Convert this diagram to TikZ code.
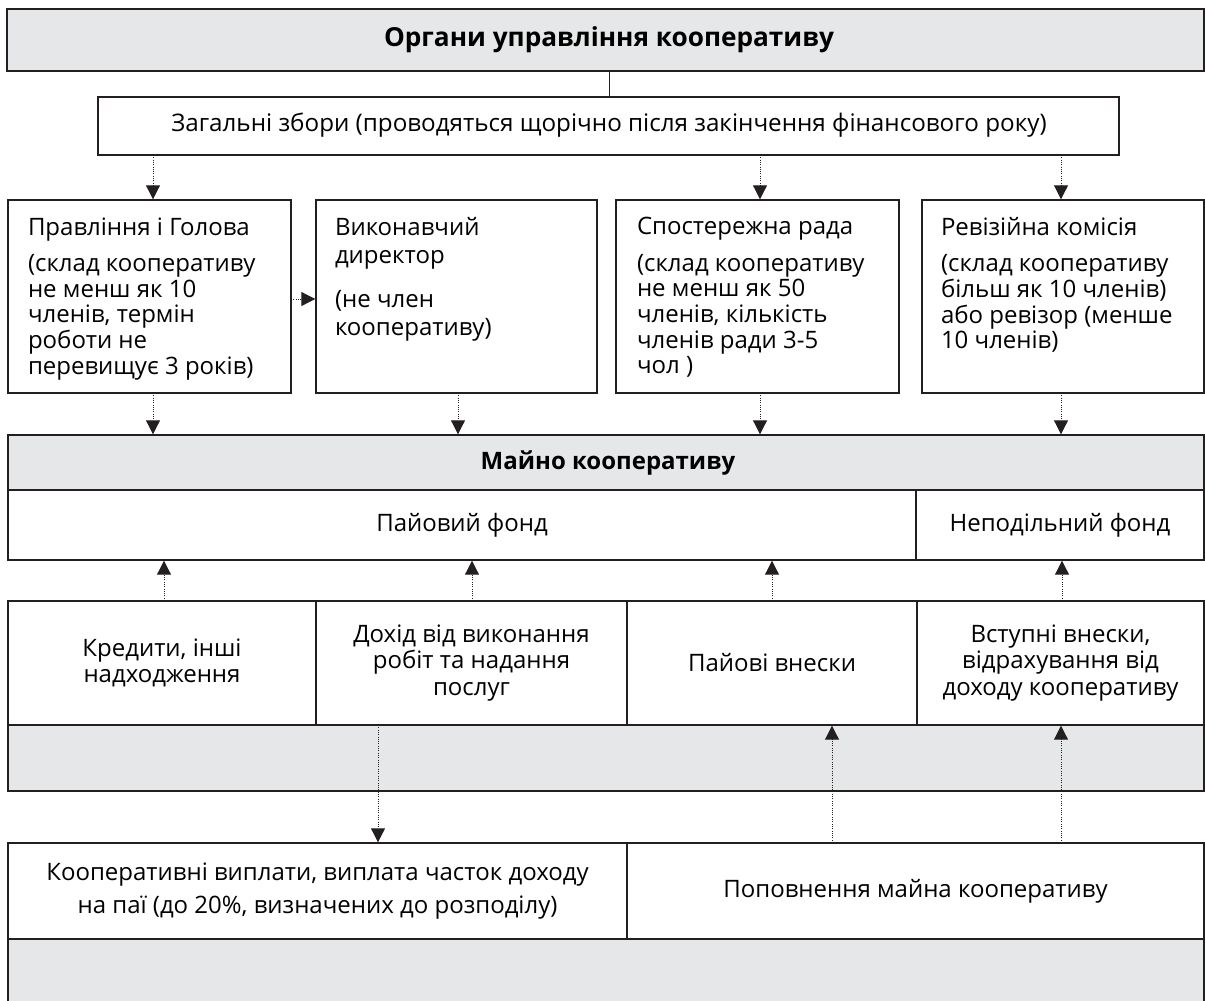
\documentclass[tikz,border=0pt]{standalone}
\usepackage{fontspec}
\setmainfont{Open Sans}
\usetikzlibrary{arrows.meta}
\definecolor{linec}{HTML}{231F20}
\definecolor{greyc}{HTML}{E6E7E8}
\newcommand\ftn{\fontsize{24}{25.7}\selectfont}
\newcommand\ftw{\fontsize{24}{28}\selectfont}
\newcommand\ftc{\fontsize{24}{26.5}\selectfont}
\newcommand\ftz{\fontsize{24.2}{28}\selectfont}
\newcommand\ftb{\fontsize{24}{33}\selectfont}
\begin{document}
\begin{tikzpicture}[x=1pt,y=-1pt,
  frame/.style={draw=linec,line width=1.4pt,inner sep=0pt,outer sep=0pt,anchor=north west},
  greybox/.style={frame,fill=greyc},
  cell/.style={frame,fill=white,align=center,font=\ftc},
  lbl/.style={inner sep=0pt,outer sep=0pt,anchor=north west,align=left,font=\ftn},
  arr/.style={draw=linec,line width=1pt,dash pattern=on 1pt off 1.3pt,
    -{Triangle[length=14pt,width=14pt,fill=linec]},shorten >=0.7pt},
  conn/.style={draw=linec,line width=1pt}
]
\useasboundingbox (0,0) rectangle (1205,1001);
% header
\node[greybox,minimum width=1197pt,minimum height=62pt] (hdr) at (7,9) {};
\node[font=\fontsize{26.2}{30}\selectfont\bfseries] (hdrt) at (609,40) {Органи управління кооперативу};
% general meeting
\node[frame,fill=white,minimum width=1021pt,minimum height=58pt] (zz) at (98,97) {};
\node[font=\ftz] (zzt) at (609,125) {Загальні збори (проводяться щорічно після закінчення фінансового року)};
\draw[conn] (hdr.south -| zzt.north) -- (zz.north -| zzt.north);
% four bodies
\node[frame,minimum width=283pt,minimum height=193pt] (p1) at (8,200) {};
\node[frame,minimum width=281pt,minimum height=193pt] (p2) at (316,200) {};
\node[frame,minimum width=283pt,minimum height=193pt] (p3) at (616,200) {};
\node[frame,minimum width=282pt,minimum height=193pt] (p4) at (922,200) {};
\node[lbl] (t1) at (28,217.5) {Правління і Голова\\[10.5pt](склад кооперативу\\не менш як 10\\членів, термін\\роботи не\\перевищує 3 років)};
\node[lbl,font=\ftw] (t2) at (335,217) {Виконавчий\\директор\\[16pt](не член\\кооперативу)};
\node[lbl] (t3) at (637,217.5) {Спостережна рада\\[10.5pt](склад кооперативу\\не менш як 50\\членів, кількість\\членів ради 3-5\\чол )};
\node[lbl] (t4) at (941,217.5) {Ревізійна комісія\\[10.5pt](склад кооперативу\\більш як 10 членів)\\або ревізор (менше\\10 членів)};
% property
\node[greybox,minimum width=1196pt,minimum height=125pt] (mp) at (8,435) {};
\node[font=\fontsize{24}{28}\selectfont\bfseries] (mpt) at (608,463) {Майно кооперативу};
\node[cell,minimum width=908pt,minimum height=70pt] (pf) at (8,490) {Пайовий фонд};
\node[cell,minimum width=288pt,minimum height=70pt] (nf) at (916,490) {Неподільний фонд};
% sources
\node[greybox,minimum width=1196pt,minimum height=190pt] (src) at (8,601) {};
\node[cell,minimum width=308pt,minimum height=124pt] (c1) at (8,601) {Кредити, інші\\надходження};
\node[cell,minimum width=311pt,minimum height=124pt] (c2) at (316,601) {Дохід від виконання\\робіт та надання\\послуг};
\node[cell,minimum width=290pt,minimum height=124pt] (c3) at (627,601) {Пайові внески};
\node[cell,minimum width=287pt,minimum height=124pt] (c4) at (917,601) {Вступні внески,\\відрахування від\\доходу кооперативу};
% bottom
\node[inner sep=0pt,outer sep=0pt,anchor=north west,fill=greyc,minimum width=1196pt,minimum height=170pt] (bot) at (8,843) {};
\draw[draw=linec,line width=1.4pt] (bot.south west) -- (bot.north west) -- (bot.north east) -- (bot.south east);
\node[cell,font=\ftb,minimum width=619pt,minimum height=96pt] (b1) at (8,843) {Кооперативні виплати, виплата часток доходу\\на паї (до 20\%, визначених до розподілу)};
\node[cell,minimum width=577pt,minimum height=96pt] (b2) at (627,843) {Поповнення майна кооперативу};
% arrow columns
\coordinate (xa) at (153,0);
\coordinate (xb) at (458,0);
\coordinate (xc) at (760,0);
\coordinate (xd) at (1061,0);
\coordinate (ua) at (164,0);
\coordinate (ub) at (472,0);
\coordinate (uc) at (772,0);
\coordinate (ud) at (1062,0);
\coordinate (dx) at (378,0);
\coordinate (ex) at (832,0);
% arrows from general meeting
\draw[arr] (xa |- zz.south) -- (xa |- p1.north);
\draw[arr] (xc |- zz.south) -- (xc |- p3.north);
\draw[arr] (xd |- zz.south) -- (xd |- p4.north);
% board to director
\coordinate (hy) at (0,299);
\draw[arr] (p1.east |- hy) -- (p2.west |- hy);
% bodies to property
\draw[arr] (xa |- p1.south) -- (xa |- mp.north);
\draw[arr] (xb |- p2.south) -- (xb |- mp.north);
\draw[arr] (xc |- p3.south) -- (xc |- mp.north);
\draw[arr] (xd |- p4.south) -- (xd |- mp.north);
% sources to funds
\draw[arr] (ua |- c1.north) -- (ua |- pf.south);
\draw[arr] (ub |- c2.north) -- (ub |- pf.south);
\draw[arr] (uc |- c3.north) -- (uc |- pf.south);
\draw[arr] (ud |- c4.north) -- (ud |- nf.south);
% income to payouts
\draw[arr] (dx |- c2.south) -- (dx |- b1.north);
% replenishment up
\draw[arr] (ex |- b2.north) -- (ex |- c3.south);
\draw[arr] (xd |- b2.north) -- (xd |- c4.south);
\end{tikzpicture}
\end{document}
